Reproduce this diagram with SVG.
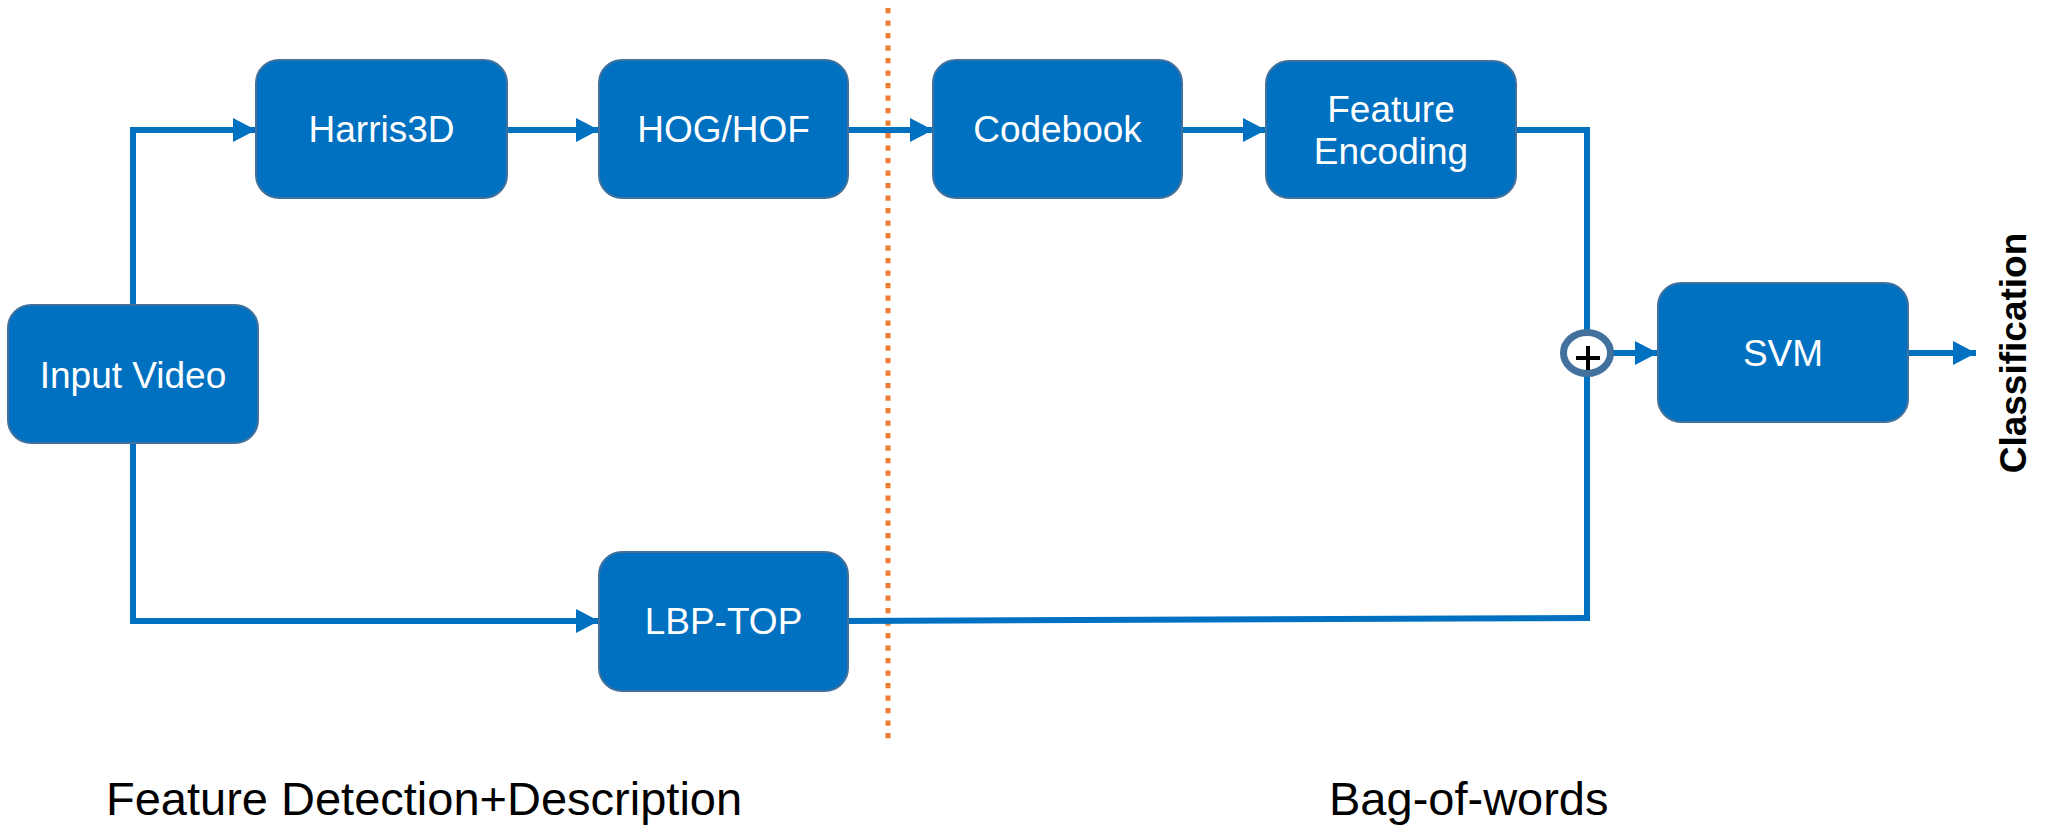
<svg xmlns="http://www.w3.org/2000/svg" width="2050" height="828" viewBox="0 0 2050 828">
  <style>
    .box { fill: #0070C0; stroke: #41719C; stroke-width: 2; }
    .lbl { fill: #FFFFFF; font-family: "Liberation Sans", Arial, sans-serif; font-size: 37px; text-anchor: middle; }
    .wire { fill: none; stroke: #0070C0; stroke-width: 6; }
    .cap { fill: #000000; font-family: "Liberation Sans", Arial, sans-serif; font-size: 47px; }
  </style>
  <defs>
    <marker id="arrow" markerUnits="userSpaceOnUse" markerWidth="24" markerHeight="24" refX="23" refY="12" orient="auto">
      <path d="M0,0 L23,12 L0,24 Z" fill="#0070C0"/>
    </marker>
  </defs>
  <rect width="2050" height="828" fill="#FFFFFF"/>

  <!-- stage divider -->
  <line x1="888" y1="8" x2="888" y2="745" stroke="#ED7D31" stroke-width="5" stroke-dasharray="5.3 7.2"/>

  <g id="connectors">
    <path class="wire" d="M133,305 L133,130 L256,130" marker-end="url(#arrow)"/>
    <path class="wire" d="M507,130 L599,130" marker-end="url(#arrow)"/>
    <path class="wire" d="M848,130 L933,130" marker-end="url(#arrow)"/>
    <path class="wire" d="M1182,130 L1266,130" marker-end="url(#arrow)"/>
    <path class="wire" d="M1516,130 L1587,130 L1587,618"/>
    <path class="wire" d="M133,443 L133,621 L599,621" marker-end="url(#arrow)"/>
    <path class="wire" d="M848,621 L1590,618"/>
    <path class="wire" d="M1613,353 L1658,353" marker-end="url(#arrow)"/>
    <path class="wire" d="M1908,353 L1976,353" marker-end="url(#arrow)"/>
  </g>

  <g id="input-video">
    <rect class="box" x="8" y="305" width="250" height="138" rx="23"/>
    <text class="lbl" x="133" y="388">Input Video</text>
  </g>
  <g id="harris3d">
    <rect class="box" x="256" y="60" width="251" height="138" rx="23"/>
    <text class="lbl" x="381.5" y="142">Harris3D</text>
  </g>
  <g id="hog-hof">
    <rect class="box" x="599" y="60" width="249" height="138" rx="23"/>
    <text class="lbl" x="723.5" y="142">HOG/HOF</text>
  </g>
  <g id="lbp-top">
    <rect class="box" x="599" y="552" width="249" height="139" rx="23"/>
    <text class="lbl" x="723.5" y="634">LBP-TOP</text>
  </g>
  <g id="codebook">
    <rect class="box" x="933" y="60" width="249" height="138" rx="23"/>
    <text class="lbl" x="1057.5" y="142">Codebook</text>
  </g>
  <g id="feature-encoding">
    <rect class="box" x="1266" y="61" width="250" height="137" rx="23"/>
    <text class="lbl" x="1391" y="121.5">Feature</text>
    <text class="lbl" x="1391" y="164">Encoding</text>
  </g>
  <g id="fusion">
    <ellipse cx="1587" cy="353" rx="23.5" ry="20.5" fill="#FFFFFF" stroke="#41719C" stroke-width="7"/>
    <path d="M1576,358 L1600,358 M1588,346 L1588,370" stroke="#000000" stroke-width="4" fill="none"/>
  </g>
  <g id="svm">
    <rect class="box" x="1658" y="283" width="250" height="139" rx="23"/>
    <text class="lbl" x="1783" y="366">SVM</text>
  </g>
  <g id="classification">
    <text transform="translate(2026,353) rotate(-90)" text-anchor="middle" font-family="Liberation Sans, Arial, sans-serif" font-size="37" font-weight="bold" fill="#000000">Classification</text>
  </g>

  <g id="stage-labels">
    <text class="cap" x="106" y="815">Feature Detection+Description</text>
    <text class="cap" x="1329" y="815">Bag-of-words</text>
  </g>
</svg>
